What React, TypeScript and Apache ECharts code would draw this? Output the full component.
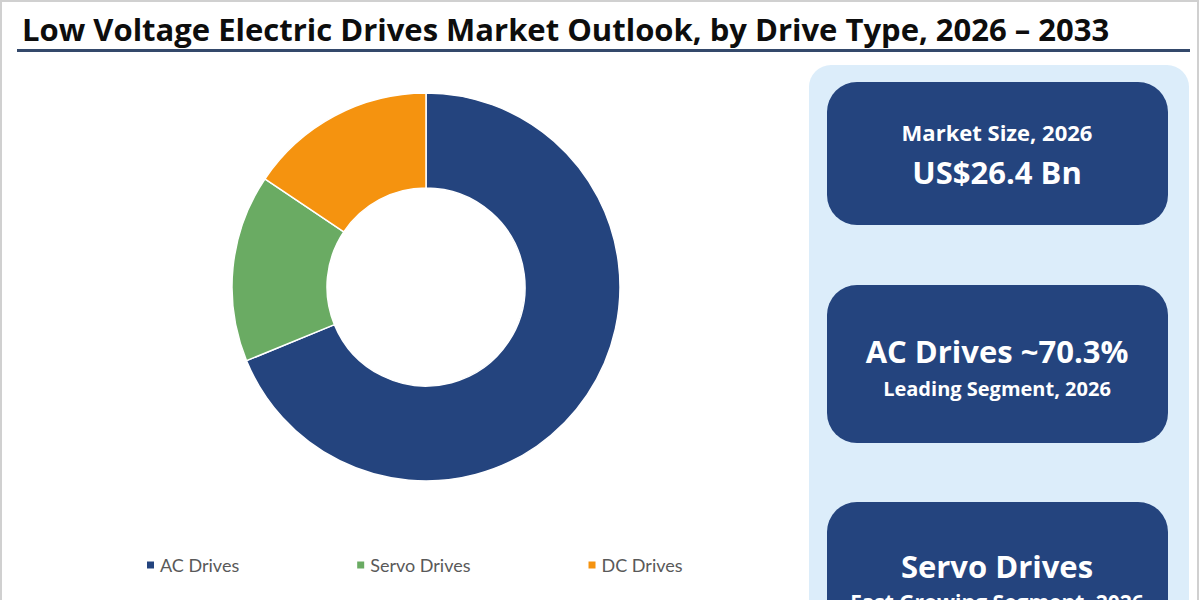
import React, { useEffect, useRef } from "react";
import * as echarts from "echarts";

const categories = ["AC Drives", "Servo Drives", "DC Drives"];
const shares = [68.8, 15.6, 15.6];
const colors = ["#24447E", "#6AAB63", "#F5930F"];
const titleText = "Low Voltage Electric Drives Market Outlook, by Drive Type, 2026 – 2033";
const cards = [
  { main: "Market Size, 2026", sub: "US$26.4 Bn" },
  { main: "AC Drives ~70.3%", sub: "Leading Segment, 2026" },
  { main: "Servo Drives", sub: "Fast Growing Segment, 2026" },
];

const FONT = "'Open Sans', Lato, sans-serif";
const LFONT = "Lato, sans-serif";

export default function App() {
  const ref = useRef<HTMLDivElement>(null);
  useEffect(() => {
    const chart = echarts.init(ref.current!, null, { renderer: "svg" });
    const cardTops = [82, 285, 502];
    const cardH = [143, 158, 158];
    const graphics: any[] = [
      { type: "rect", shape: { x: 1, y: 1, width: 1197, height: 620 }, style: { fill: "none", stroke: "#D0D0D0", lineWidth: 2 }, silent: true },
      { type: "text", x: 22, y: 29, style: { text: titleText, font: `bold 31px ${FONT}`, fill: "#0D0D0D", verticalAlign: "middle" } },
      { type: "rect", shape: { x: 17, y: 49, width: 1173, height: 3 }, style: { fill: "#34496B" } },
      { type: "rect", shape: { x: 809, y: 65, width: 380, height: 580, r: 22 }, style: { fill: "#DCEDFA" } },
    ];
    cards.forEach((c, i) => {
      graphics.push({ type: "rect", shape: { x: 827, y: cardTops[i], width: 341, height: cardH[i], r: 30 }, style: { fill: "#24447E" } });
    });
    graphics.push({ type: "text", x: 997, y: 132, style: { text: cards[0].main, font: `bold 22px ${FONT}`, fill: "#FFFFFF", align: "center", verticalAlign: "middle" } });
    graphics.push({ type: "text", x: 997, y: 172, style: { text: cards[0].sub, font: `bold 31px ${FONT}`, fill: "#FFFFFF", align: "center", verticalAlign: "middle" } });
    graphics.push({ type: "text", x: 997, y: 351, style: { text: cards[1].main, font: `bold 31px ${FONT}`, fill: "#FFFFFF", align: "center", verticalAlign: "middle" } });
    graphics.push({ type: "text", x: 997, y: 388, style: { text: cards[1].sub, font: `bold 20px ${FONT}`, fill: "#FFFFFF", align: "center", verticalAlign: "middle" } });
    graphics.push({ type: "text", x: 997, y: 566, style: { text: cards[2].main, font: `bold 31px ${FONT}`, fill: "#FFFFFF", align: "center", verticalAlign: "middle" } });
    graphics.push({ type: "text", x: 997, y: 602, style: { text: cards[2].sub, font: `bold 21px ${FONT}`, fill: "#FFFFFF", align: "center", verticalAlign: "middle" } });

    chart.setOption({
      animation: false,
      backgroundColor: "#FFFFFF",
      color: colors,
      legend: {
        data: categories,
        left: 140,
        top: 551,
        itemWidth: 9,
        itemHeight: 9,
        itemGap: 116,
        icon: "rect",
        textStyle: { color: "#595959", fontSize: 18, fontFamily: LFONT },
      },
      series: [
        {
          type: "pie",
          center: [426, 287],
          radius: [99, 194],
          startAngle: 90,
          clockwise: true,
          label: { show: false },
          labelLine: { show: false },
          itemStyle: { borderColor: "#FFFFFF", borderWidth: 1.5 },
          data: categories.map((n, i) => ({ name: n, value: shares[i] })),
        },
      ],
      graphic: graphics,
    });
    return () => chart.dispose();
  }, []);
  return <div ref={ref} style={{ position: "fixed", left: 0, top: 0, width: 1200, height: 600 }} />;
}
